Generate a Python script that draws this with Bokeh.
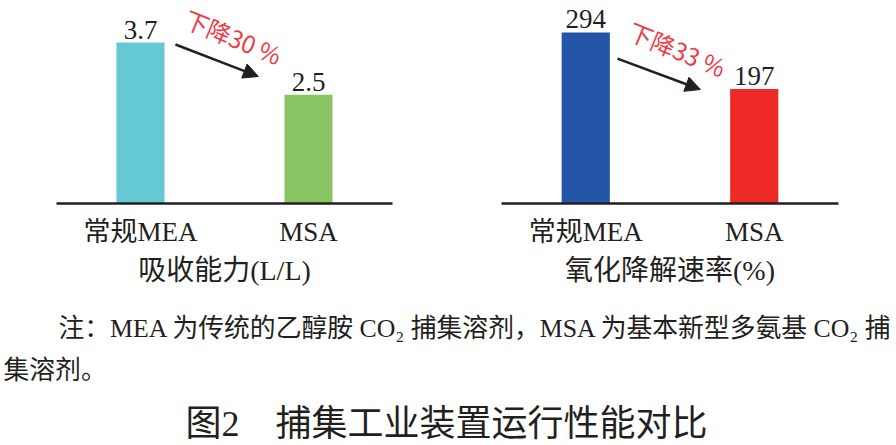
from bokeh.plotting import figure
from bokeh.models import FactorRange, Range1d, Arrow, NormalHead
from bokeh.layouts import column, row
from bokeh.core.properties import value
from bokeh.embed import file_html
from bokeh.resources import INLINE

# ---- data ----
categories = ["常规MEA", "MSA"]
absorption = [3.7, 2.5]            # 吸收能力 (L/L)
degradation = [294, 197]           # 氧化降解速率 (%)
absorption_labels = ["3.7", "2.5"]
degradation_labels = ["294", "197"]
absorption_colors = ["#65c9d4", "#89c663"]
degradation_colors = ["#2356a6", "#ed2a28"]
drop_texts = ["下降30 %", "下降33 %"]
axis_titles = ["吸收能力(L/L)", "氧化降解速率(%)"]
note_line1 = "注：MEA 为传统的乙醇胺 CO₂ 捕集溶剂，MSA 为基本新型多氨基 CO₂ 捕"
note_line2 = "集溶剂。"
fig_title = "图2　捕集工业装置运行性能对比"

INK = "#231f20"
MIX_FONT = "Liberation Serif, Noto Sans CJK SC"
RED = "#ef3a44"


def bar_panel(width, left, right, ymax, vals, labels, colors, title, drop, arrow_pts, drop_pt):
    p = figure(width=width, height=290, x_range=FactorRange(factors=categories, range_padding=0),
               y_range=Range1d(0, ymax), y_axis_location=None,
               min_border_left=left, min_border_right=right, min_border_top=0, min_border_bottom=87,
               toolbar_location=None, output_backend="svg")
    p.outline_line_color = None
    p.xgrid.grid_line_color = None
    p.ygrid.grid_line_color = None
    p.vbar(x=categories, top=vals, width=0.286, fill_color=colors, line_color=None)
    p.text(x=categories, y=vals, text=labels, text_align="center", text_baseline="bottom",
           y_offset=-4, text_font=value("Liberation Serif"), text_font_size=value("27px"),
           text_color=INK)
    ax = p.xaxis[0]
    ax.axis_line_width = 2.5
    ax.axis_line_color = INK
    ax.major_tick_line_color = None
    ax.minor_tick_line_color = None
    ax.major_label_text_font = MIX_FONT
    ax.major_label_text_font_size = "27px"
    ax.major_label_text_color = INK
    ax.major_label_standoff = 7
    ax.axis_label = title
    ax.axis_label_text_font = MIX_FONT
    ax.axis_label_text_font_size = "28px"
    ax.axis_label_text_font_style = "normal"
    ax.axis_label_text_color = INK
    ax.axis_label_standoff = 5
    x0, y0, x1, y1 = arrow_pts
    p.add_layout(Arrow(end=NormalHead(size=15, fill_color=INK, line_color=INK),
                       x_start=x0, y_start=y0, x_end=x1, y_end=y1,
                       line_width=2.5, line_color=INK))
    p.text(x=[drop_pt[0]], y=[drop_pt[1]], text=[drop], angle=-0.39,
           text_align="center", text_baseline="middle",
           text_font=value("Noto Sans CJK SC"), text_font_size=value("24px"), text_color=RED)
    return p


p1 = bar_panel(446, 56, 54, 4.666, absorption, absorption_labels, absorption_colors,
               axis_titles[0], drop_texts[0], (0.708, 3.654, 1.202, 2.92), (1.054, 3.84))
p2 = bar_panel(450, 55, 58, 349.0, degradation, degradation_labels, degradation_colors,
               axis_titles[1], drop_texts[1], (0.688, 249.0, 1.181, 196.0), (1.045, 266.0))

p3 = figure(width=896, height=155, x_range=Range1d(0, 896), y_range=Range1d(155, 0),
            x_axis_location=None, y_axis_location=None, min_border=0,
            toolbar_location=None, output_backend="svg")
p3.outline_line_color = None
p3.xgrid.grid_line_color = None
p3.ygrid.grid_line_color = None
p3.text(x=[58], y=[38], text=[note_line1], text_align="left", text_baseline="middle",
        text_font=value(MIX_FONT), text_font_size=value("25.8px"), text_color=INK)
p3.text(x=[3], y=[80], text=[note_line2], text_align="left", text_baseline="middle",
        text_font=value(MIX_FONT), text_font_size=value("25.8px"), text_color=INK)
p3.text(x=[446], y=[133], text=[fig_title], text_align="center", text_baseline="middle",
        text_font=value(MIX_FONT), text_font_size=value("36px"), text_color=INK)

layout = column(row(p1, p2), p3)
open("out.html", "w").write(file_html(layout, INLINE))
